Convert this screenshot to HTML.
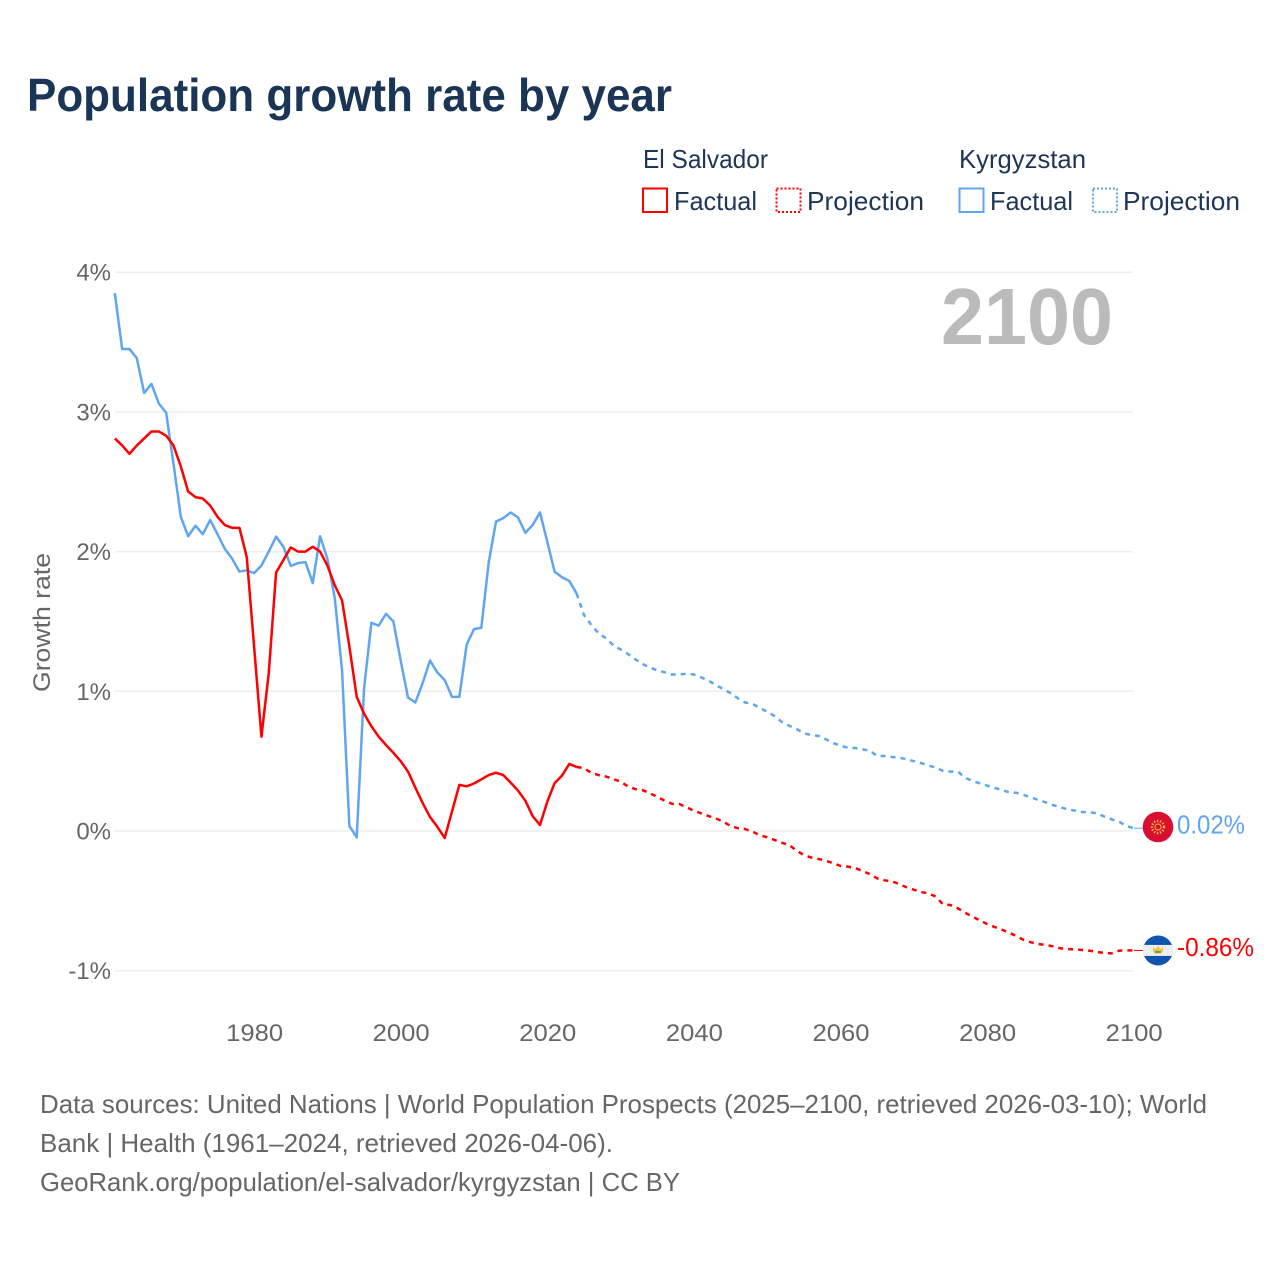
<!DOCTYPE html>
<html lang="en">
<head>
<meta charset="utf-8">
<title>Population growth rate by year</title>
<style>
html,body{margin:0;padding:0;background:#fff;}
svg{display:block;font-family:"Liberation Sans",sans-serif;}
</style>
</head>
<body>
<svg id="chart" width="1280" height="1280" viewBox="0 0 1280 1280" xmlns="http://www.w3.org/2000/svg">
  <rect x="0" y="0" width="1280" height="1280" fill="#fff"/>
  <text x="27" y="111" font-size="46" font-weight="700" fill="#1a3556" textLength="645" lengthAdjust="spacingAndGlyphs">Population growth rate by year</text>

  <g font-size="26" fill="#1d3557">
    <text x="643" y="168" textLength="125" lengthAdjust="spacingAndGlyphs">El Salvador</text>
    <text x="959" y="168" textLength="127" lengthAdjust="spacingAndGlyphs">Kyrgyzstan</text>
    <g>
      <rect x="643" y="188.5" width="24" height="23.5" fill="none" stroke="#ff0000" stroke-width="2"/>
      <text x="674" y="210" textLength="83" lengthAdjust="spacingAndGlyphs">Factual</text>
    </g>
    <g>
      <rect x="776.5" y="188.5" width="24" height="23.5" fill="none" stroke="#ff0000" stroke-width="2" stroke-dasharray="2 2"/>
      <text x="807" y="210" textLength="117" lengthAdjust="spacingAndGlyphs">Projection</text>
    </g>
    <g>
      <rect x="959.5" y="188.5" width="24" height="23.5" fill="none" stroke="#60a5ef" stroke-width="2"/>
      <text x="990" y="210" textLength="83" lengthAdjust="spacingAndGlyphs">Factual</text>
    </g>
    <g>
      <rect x="1093" y="188.5" width="24" height="23.5" fill="none" stroke="#60a5ef" stroke-width="2" stroke-dasharray="2 2"/>
      <text x="1123" y="210" textLength="117" lengthAdjust="spacingAndGlyphs">Projection</text>
    </g>
  </g>

  <g id="grid"></g>
  <g id="y-ticks"></g>
  <g id="x-ticks"></g>

  <text transform="translate(50,622.5) rotate(-90)" text-anchor="middle" font-size="24" fill="#666" textLength="139" lengthAdjust="spacingAndGlyphs">Growth rate</text>
  <text x="941" y="344" font-size="80" font-weight="700" fill="#bbbbbb" textLength="172" lengthAdjust="spacingAndGlyphs">2100</text>

  <g id="series"></g>
  <g id="end-markers"></g>

  <g font-size="26" fill="#666">
    <text x="40" y="1113" textLength="1167" lengthAdjust="spacingAndGlyphs">Data sources: United Nations | World Population Prospects (2025–2100, retrieved 2026-03-10); World</text>
    <text x="40" y="1152" textLength="573" lengthAdjust="spacingAndGlyphs">Bank | Health (1961–2024, retrieved 2026-04-06).</text>
    <text x="40" y="1191" textLength="640" lengthAdjust="spacingAndGlyphs">GeoRank.org/population/el-salvador/kyrgyzstan | CC BY</text>
  </g>
</svg>
<script>
const factualStartYear = 1961;
const projectionStartYear = 2024;
const xTickLabels = [1980, 2000, 2020, 2040, 2060, 2080, 2100];
const yTickValues = [4, 3, 2, 1, 0, -1];

const elSalvadorFactual = [
  2.81, 2.76, 2.70, 2.76, 2.81, 2.86, 2.86, 2.83, 2.76, 2.61,
  2.43, 2.39, 2.38, 2.33, 2.25, 2.19, 2.17, 2.17, 1.96, 1.32,
  0.675, 1.13, 1.85, 1.94, 2.03, 2.00, 2.00, 2.035, 2.00, 1.90,
  1.76, 1.65, 1.32, 0.96, 0.84, 0.75, 0.675, 0.615, 0.56, 0.50,
  0.425, 0.31, 0.20, 0.10, 0.03, -0.05, 0.14, 0.33, 0.32, 0.34,
  0.37, 0.40, 0.417, 0.40, 0.346, 0.29, 0.217, 0.107, 0.043, 0.21,
  0.343, 0.396, 0.48, 0.458
];
const kyrgyzstanFactual = [
  3.85, 3.45, 3.45, 3.385, 3.135, 3.20, 3.06, 2.995, 2.63, 2.25,
  2.11, 2.185, 2.125, 2.226, 2.126, 2.02, 1.95, 1.857, 1.866, 1.846,
  1.90, 2.0, 2.107, 2.035, 1.897, 1.918, 1.925, 1.775, 2.11, 1.95,
  1.67, 1.15, 0.036, -0.045, 1.02, 1.49, 1.47, 1.555, 1.50, 1.22,
  0.955, 0.92, 1.06, 1.22, 1.135, 1.08, 0.96, 0.96, 1.335, 1.445,
  1.455, 1.92, 2.215, 2.24, 2.28, 2.245, 2.135, 2.19, 2.28, 2.07,
  1.856, 1.816, 1.79, 1.70
];
const elSalvadorProjection = [
  0.458, 0.45, 0.417, 0.40, 0.39, 0.372, 0.353,
  0.32, 0.30, 0.293, 0.27, 0.245, 0.217, 0.195, 0.193, 0.17, 0.145,
  0.127, 0.107, 0.09, 0.067, 0.036, 0.02, 0.014, -0.005, -0.03, -0.045,
  -0.064, -0.084, -0.10, -0.14, -0.172, -0.19, -0.2, -0.213, -0.23, -0.25,
  -0.255, -0.265, -0.286, -0.308, -0.339, -0.353, -0.36, -0.379, -0.403, -0.42,
  -0.437, -0.446, -0.47, -0.525, -0.53, -0.553, -0.585, -0.613, -0.64, -0.666,
  -0.687, -0.706, -0.728, -0.752, -0.78, -0.797, -0.809, -0.816, -0.826, -0.84,
  -0.845, -0.847, -0.852, -0.857, -0.866, -0.873, -0.876, -0.857, -0.854, -0.855
];
const kyrgyzstanProjection = [
  1.70, 1.546, 1.475, 1.415, 1.38, 1.33, 1.30,
  1.267, 1.23, 1.195, 1.17, 1.15, 1.136, 1.12, 1.12, 1.126, 1.12,
  1.10, 1.076, 1.045, 1.016, 0.987, 0.95, 0.92, 0.91, 0.88, 0.854,
  0.823, 0.78, 0.754, 0.73, 0.70, 0.687, 0.68, 0.657, 0.63, 0.61,
  0.596, 0.594, 0.585, 0.575, 0.537, 0.537, 0.53, 0.525, 0.514, 0.50,
  0.486, 0.47, 0.453, 0.43, 0.425, 0.425, 0.382, 0.358, 0.341, 0.325,
  0.308, 0.294, 0.277, 0.274, 0.258, 0.241, 0.222, 0.205, 0.186, 0.17,
  0.155, 0.146, 0.136, 0.134, 0.127, 0.103, 0.084, 0.067, 0.036, 0.02
];
const endValueLabels = ["-0.86%", "0.02%"];

const SVG_NS = "http://www.w3.org/2000/svg";
const RED = "#ff0000";
const BLUE = "#60a5ef";
function xScale(year) { return 1133.7 - (2100 - year) * 7.33; }
function yScale(value) { return 831 - value * 139.7; }
function make(tag, parent, attrs) {
  const el = document.createElementNS(SVG_NS, tag);
  for (const k in attrs) el.setAttribute(k, attrs[k]);
  parent.appendChild(el);
  return el;
}
function linePoints(startYear, values) {
  return values.map(function (v, i) {
    return xScale(startYear + i).toFixed(2) + "," + yScale(v).toFixed(2);
  }).join(" ");
}

const gridGroup = document.getElementById("grid");
const yTickGroup = document.getElementById("y-ticks");
yTickValues.forEach(function (v) {
  const g = make("line", gridGroup, { x1: 115, x2: 1133, y1: yScale(v), y2: yScale(v), stroke: "#eeeeee", "stroke-width": 1.5 });
  
  
  const label = v + "%";
  const t = make("text", yTickGroup, { x: 111, y: yScale(v) + 8.5, "text-anchor": "end", "font-size": 24, fill: "#666" });
  t.textContent = label;
  
  
});

const xTickGroup = document.getElementById("x-ticks");
xTickLabels.forEach(function (year) {
  const t = make("text", xTickGroup, { x: xScale(year) + 0.5, y: 1041, "text-anchor": "middle", "font-size": 24, fill: "#666", textLength: 57, lengthAdjust: "spacingAndGlyphs" });
  t.textContent = year;
  
  
});

const seriesGroup = document.getElementById("series");
function drawLine(startYear, values, color, dashed, name) {
  const attrs = { points: linePoints(startYear, values), fill: "none", stroke: color, "stroke-width": 2.5, "stroke-linejoin": "round" };
  if (dashed) attrs["stroke-dasharray"] = "5 5";
  const p = make("polyline", seriesGroup, attrs);
  
  
}
drawLine(factualStartYear, kyrgyzstanFactual, BLUE, false, "line-kyrgyzstan-factual");
drawLine(projectionStartYear, kyrgyzstanProjection, BLUE, true, "line-kyrgyzstan-projection");
drawLine(factualStartYear, elSalvadorFactual, RED, false, "line-el-salvador-factual");
drawLine(projectionStartYear, elSalvadorProjection, RED, true, "line-el-salvador-projection");

const markerGroup = document.getElementById("end-markers");
const lastSalvador = elSalvadorProjection[elSalvadorProjection.length - 1];
const lastKyrgyz = kyrgyzstanProjection[kyrgyzstanProjection.length - 1];
const MARKER_X = 1158;

function drawEnd(value, color, label, name) {
  const y = yScale(value);
  const c = make("line", markerGroup, { x1: 1134, x2: 1143, y1: y, y2: y, stroke: color, "stroke-width": 1 });
  
  
  const t = make("text", markerGroup, { x: 1177, y: y + 5.5, "font-size": 26, fill: color, textLength: label.length === 5 ? 68 : 77, lengthAdjust: "spacingAndGlyphs" });
  t.textContent = label;
  
  
  return y;
}

const ky = drawEnd(lastKyrgyz, BLUE, endValueLabels[1], "kyrgyzstan") - 1.2;
const sy = drawEnd(lastSalvador, RED, endValueLabels[0], "el-salvador");

/* Kyrgyzstan flag */
const kFlag = make("g", markerGroup, {});


make("circle", kFlag, { cx: MARKER_X, cy: ky, r: 15.3, fill: "#d90f32" });
make("circle", kFlag, { cx: MARKER_X, cy: ky, r: 6, fill: "none", stroke: "#f0b93a", "stroke-width": 2.4, "stroke-dasharray": "1.4 1.6" });
make("circle", kFlag, { cx: MARKER_X, cy: ky, r: 3, fill: "#d90f32", stroke: "#f0b93a", "stroke-width": 1 });

/* El Salvador flag */
const sFlag = make("g", markerGroup, {});


make("circle", sFlag, { cx: MARKER_X, cy: sy, r: 15, fill: "#0f55ac" });
make("rect", sFlag, { x: MARKER_X - 15, y: sy - 5.5, width: 30, height: 11, fill: "#eeeeee" });
make("path", sFlag, { d: "M" + (MARKER_X - 5) + " " + (sy - 3.5) + " l2.5 2 l2.5 -3 l2.5 3 l2.5 -2 v5 q-5 3.5 -10 0 z", fill: "#f1c64f" });
make("rect", sFlag, { x: MARKER_X - 3, y: sy + 0.5, width: 6, height: 2, fill: "#7a9a4a" });
</script>
</body>
</html>
